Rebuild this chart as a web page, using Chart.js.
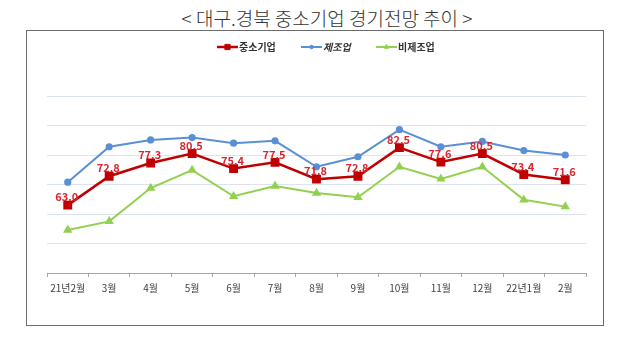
<!DOCTYPE html>
<html>
<head>
<meta charset="utf-8">
<script src="https://cdn.jsdelivr.net/npm/chart.js@4"></script>
<style>
  html, body { margin: 0; padding: 0; background: #fff; }
  body { width: 640px; height: 343px; position: relative; overflow: hidden; }
  #title {
    position: absolute; left: 0; top: 5px; width: 654px; text-align: center;
    font-family: "Noto Sans CJK KR", sans-serif; font-size: 19px; color: #333;
    line-height: 26px; font-weight: 300;
  }
  #frame {
    position: absolute; left: 26px; top: 30px; width: 578px; height: 296px;
    box-sizing: border-box; border: 1px solid #6b6b6b;
  }
  #chart { position: absolute; left: 0; top: 0; }
</style>
</head>
<body>
<div id="title">&lt; 대구.경북 중소기업 경기전망 추이 &gt;</div>
<div id="frame"><canvas id="chart" width="576" height="294"></canvas></div>
<script>
// categories and series
const months = ['21년2월', '3월', '4월', '5월', '6월', '7월', '8월', '9월', '10월', '11월', '12월', '22년1월', '2월'];
const smeValues    = [63.0, 72.8, 77.3, 80.5, 75.4, 77.5, 71.8, 72.8, 82.5, 77.6, 80.5, 73.4, 71.6];
const mfgValues    = [70.8, 82.8, 85.1, 85.9, 84.0, 84.8, 76.0, 79.4, 88.6, 82.8, 84.6, 81.5, 80.0];
const nonMfgValues = [54.6, 57.5, 68.8, 74.9, 66.0, 69.5, 67.1, 65.7, 76.0, 71.9, 76.0, 64.8, 62.5];
const seriesNames  = ['중소기업', '제조업', '비제조업'];

const FONT = '"Noto Sans CJK KR", sans-serif';

// value labels above the red series
const valueLabels = {
  id: 'valueLabels',
  afterDatasetsDraw(chart) {
    const ctx = chart.ctx;
    const meta = chart.getDatasetMeta(0);
    ctx.save();
    ctx.font = 'bold 11px ' + FONT;
    ctx.fillStyle = '#d9262f';
    ctx.textAlign = 'center';
    ctx.textBaseline = 'middle';
    meta.data.forEach((pt, i) => {
      ctx.fillText(smeValues[i].toFixed(1), pt.x - 1, pt.y - 8);
    });
    ctx.restore();
  }
};

// legend: short line with the marker on it, then the name
const lineLegend = {
  id: 'lineLegend',
  afterDraw(chart) {
    const ctx = chart.ctx;
    const starts = [190, 274, 349];
    const y = 16;
    ctx.save();
    chart.data.datasets.forEach((ds, i) => {
      const x = starts[i];
      ctx.strokeStyle = ds.borderColor;
      ctx.fillStyle   = ds.backgroundColor;
      ctx.lineWidth   = ds.borderWidth;
      ctx.beginPath();
      ctx.moveTo(x, y);
      ctx.lineTo(x + 21, y);
      ctx.stroke();
      ctx.lineWidth = 1;
      Chart.helpers.drawPoint(ctx, {
        pointStyle: ds.pointStyle, radius: ds.pointRadius - 0.8, borderWidth: 1
      }, x + 10.5, y);
      ctx.fillStyle = '#333';
      ctx.font = (i === 1 ? 'italic ' : '') + 'bold 10px ' + FONT;
      ctx.textBaseline = 'middle';
      ctx.textAlign = 'left';
      ctx.fillText(seriesNames[i], x + 22, y + 0.5);
    });
    ctx.restore();
  }
};

new Chart(document.getElementById('chart'), {
  type: 'line',
  data: {
    labels: months,
    datasets: [
      {
        label: seriesNames[0],
        data: smeValues,
        borderColor: '#c00000',
        backgroundColor: '#c00000',
        borderWidth: 2.5,
        pointStyle: 'rect',
        pointRadius: 4.5,
        order: 0,
      },
      {
        label: seriesNames[1],
        data: mfgValues,
        borderColor: '#5a8fd6',
        backgroundColor: '#5a8fd6',
        borderWidth: 2,
        pointStyle: 'circle',
        pointRadius: 2.6,
        order: 1,
      },
      {
        label: seriesNames[2],
        data: nonMfgValues,
        borderColor: '#92d050',
        backgroundColor: '#92d050',
        borderWidth: 2,
        pointStyle: 'triangle',
        pointRadius: 3.4,
        order: 2,
      },
    ],
  },
  options: {
    responsive: false,
    animation: false,
    devicePixelRatio: 1,
    layout: { padding: { left: 20, right: 17, top: 65, bottom: 0 } },
    plugins: {
      legend:  { display: false },
      tooltip: { enabled: false },
    },
    elements: {
      line:  { tension: 0 },
      point: { borderWidth: 1, hoverRadius: 4 },
    },
    scales: {
      x: {
        offset: true,
        grid: {
          offset: true,
          drawOnChartArea: false,
          drawTicks: true,
          tickLength: 4,
          color: '#a6a6a6',
        },
        border: { color: '#a6a6a6', width: 1 },
        ticks: {
          color: '#404040',
          font: { family: FONT, size: 10 },
          padding: 5,
          maxRotation: 0,
          autoSkip: false,
        },
        afterFit: s => { s.height = 52; },
      },
      y: {
        min: 40,
        max: 100,
        ticks: { display: false, stepSize: 10 },
        grid: { color: '#dbe3ef', lineWidth: 1, drawTicks: false },
        border: { display: false },
        afterFit: s => { s.width = 0; },
      },
    },
  },
  plugins: [valueLabels, lineLegend],
});
</script>
</body>
</html>
